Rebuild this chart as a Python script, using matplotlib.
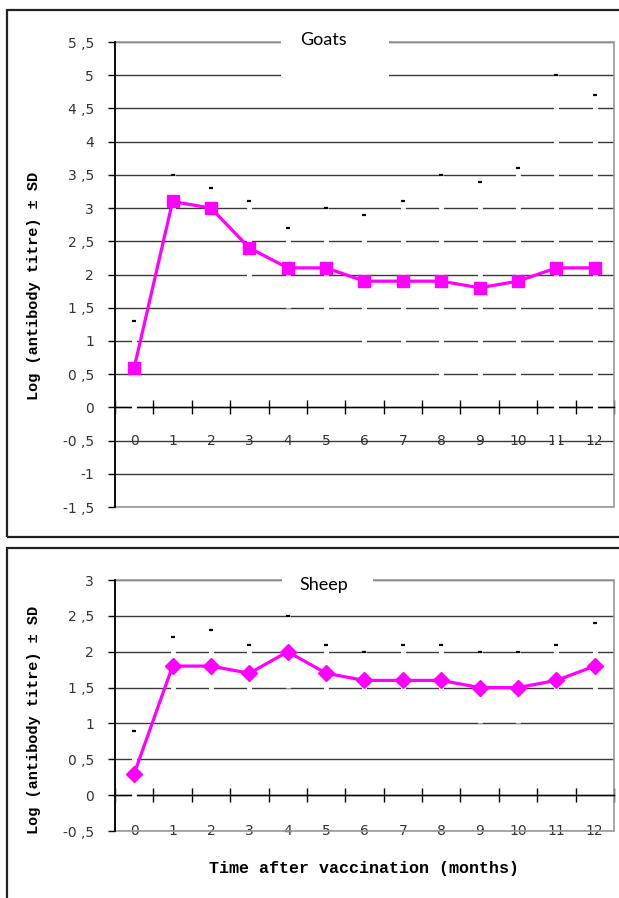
import numpy as np
import matplotlib.pyplot as plt
from matplotlib.patches import Rectangle

months = ['0', '1', '2', '3', '4', '5', '6', '7', '8', '9', '10', '11', '12']

goats_mean = [0.6, 3.1, 3.0, 2.4, 2.1, 2.1, 1.9, 1.9, 1.9, 1.8, 1.9, 2.1, 2.1]
goats_sd = [0.7, 0.4, 0.3, 0.7, 0.6, 0.9, 1.0, 1.2, 1.6, 1.6, 1.7, 2.9, 2.6]

sheep_mean = [0.3, 1.8, 1.8, 1.7, 2.0, 1.7, 1.6, 1.6, 1.6, 1.5, 1.5, 1.6, 1.8]
sheep_sd = [0.6, 0.4, 0.5, 0.4, 0.5, 0.4, 0.4, 0.5, 0.5, 0.5, 0.5, 0.5, 0.6]

goats_ticks = np.arange(-1.5, 5.51, 0.5)
sheep_ticks = np.arange(-0.5, 3.01, 0.5)

tick_font = ['Liberation Sans Narrow', 'DejaVu Sans Condensed', 'DejaVu Sans']
label_font = ['Liberation Mono', 'DejaVu Sans Mono']
magenta = '#FF00FF'

fig = plt.figure(figsize=(6.19, 8.98), dpi=100)

# outer boxes around each panel
fig.add_artist(Rectangle((0.0113, 0.402), 1.2, 0.5869, transform=fig.transFigure,
                         fill=False, ec='#222222', lw=1.6))
fig.add_artist(Rectangle((0.0113, -0.2), 1.2, 0.5898, transform=fig.transFigure,
                         fill=False, ec='#222222', lw=1.6))


def fmt(v):
    s = f"{v:g}"
    return s.replace('.', ' ,')


def panel(rect, mean, sd, ticks, marker, ms, title, title_box, title_xy, ylab_y):
    ax = fig.add_axes(rect)
    x = np.arange(len(months))
    mean = np.array(mean)
    sd = np.array(sd)

    ax.set_xlim(-0.5, len(months) - 0.5)
    ax.set_ylim(ticks[0], ticks[-1])

    # horizontal grid
    ax.set_yticks(ticks)
    ax.set_yticklabels([fmt(v) for v in ticks], family=tick_font, fontsize=10, color='#333333')
    ax.yaxis.grid(True, color='#3a3a3a', lw=1)
    ax.set_axisbelow(True)
    ax.tick_params(axis='y', direction='out', length=5, width=1, pad=10, colors='black',
                   labelcolor='#333333')

    # x axis through zero with ticks between categories
    for s in ['top', 'right']:
        ax.spines[s].set_visible(False)
    ax.spines['bottom'].set_position(('data', 0))
    ax.spines['bottom'].set_color('black')
    ax.spines['bottom'].set_linewidth(1)
    ax.spines['left'].set_linewidth(1.3)
    ax.set_xticks(np.arange(-0.5, len(months), 1))
    ax.set_xticklabels([])
    ax.tick_params(axis='x', direction='inout', length=10, width=1)
    ax.add_patch(Rectangle((0, 0), 1, 1, transform=ax.transAxes, fill=False,
                           ec='#999999', lw=1.2, zorder=2.4, clip_on=False))
    for xi, lab in zip(x, months):
        ax.text(xi, -0.5, lab, ha='center', va='center', family=tick_font,
                fontsize=10, color='#333333', zorder=2)

    # white error bars with a black upper cap
    ax.errorbar(x, mean, yerr=sd, fmt='none', ecolor='white', elinewidth=3.5, zorder=3)
    ax.plot(x, mean + sd, ls='none', marker='_', color='black', ms=3, mew=1.6, zorder=5)

    ax.plot(x, mean, color=magenta, lw=2.3, marker=marker, ms=ms, mfc=magenta,
            mec=magenta, zorder=6)

    # title in a white box
    bx0, bx1, by0, by1 = title_box
    ax.add_patch(Rectangle((bx0, by0), bx1 - bx0, by1 - by0, transform=ax.transAxes,
                           fc='white', ec='none', zorder=4, clip_on=False))
    ax.text(title_xy[0], title_xy[1], title, transform=ax.transAxes, ha='center',
            va='center', family=['Lato', 'DejaVu Sans'], fontsize=13, zorder=7)

    ax.set_ylabel('Log (antibody titre) ± SD', family=label_font, fontweight='bold',
                  fontsize=11)
    ax.yaxis.set_label_coords(-0.148, ylab_y)
    return ax


top = panel([0.1858, 0.4354, 0.806, 0.5178], goats_mean, goats_sd, goats_ticks, 's', 8.5,
            'Goats', (0.333, 0.549, 0.86, 1.05), (0.417, 1.004), 0.475)
bottom = panel([0.1858, 0.0746, 0.806, 0.2795], sheep_mean, sheep_sd, sheep_ticks, 'D', 8.5,
               'Sheep', (0.335, 0.517, 0.90, 1.08), (0.419, 0.980), 0.442)

bottom.set_xlabel('Time after vaccination (months)', family=label_font, fontweight='bold',
                  fontsize=12)
bottom.xaxis.set_label_coords(0.5, -0.12)

plt.savefig('out.png', dpi=100)
